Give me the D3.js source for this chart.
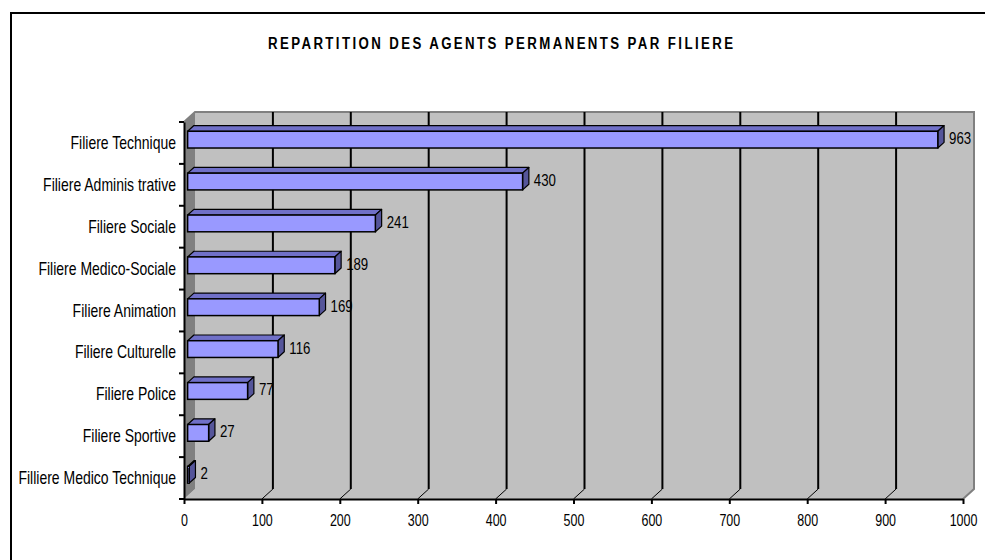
<!DOCTYPE html>
<html>
<head>
<meta charset="utf-8">
<script src="https://cdn.jsdelivr.net/npm/d3@7"></script>
<style>
  html, body { margin: 0; padding: 0; background: #fff; }
  svg { display: block; }
  text { font-family: "Liberation Sans", Arial, sans-serif; fill: #000; }
</style>
</head>
<body>
<svg id="chart" width="985" height="560"></svg>
<script>
// Effectifs permanents par filière
const categories = [
  "Filiere Technique",
  "Filiere Adminis trative",
  "Filiere Sociale",
  "Filiere Medico-Sociale",
  "Filiere Animation",
  "Filiere Culturelle",
  "Filiere Police",
  "Filiere Sportive",
  "Filliere Medico Technique"
];
const values = [963, 430, 241, 189, 169, 116, 77, 27, 2];
const tickValues = [0, 100, 200, 300, 400, 500, 600, 700, 800, 900, 1000];
const title = "REPARTITION DES AGENTS PERMANENTS PAR FILIERE";

const svg = d3.select("#chart");

// Plot frame (front plane) and oblique depth of the 3D box
const plotLeft = 184, plotRight = 963, plotTop = 122, plotBottom = 499;
const depth = { x: 11, y: -10 };
const barFront = 0.33, barBack = 0.9;   // bar position within the depth
const textScale = 0.78;                  // narrow glyphs

const x = d3.scaleLinear().domain([0, 1000]).range([plotLeft, plotRight]);
const y = d3.scaleBand().domain(categories).range([plotTop, plotBottom])
  .paddingInner(0.6).paddingOuter(0.3);

// Outer frame lines
svg.append("path")
  .attr("d", `M11,560 L11,13 L985,13`)
  .attr("fill", "none").attr("stroke", "#000").attr("stroke-width", 2);

// Title
svg.append("text")
  .attr("transform", `translate(268,49) scale(${textScale},1)`)
  .attr("font-size", 17).attr("font-weight", "bold")
  .attr("textLength", 465 / textScale).attr("lengthAdjust", "spacing")
  .text(title);

const bx = plotLeft + depth.x, by = plotTop + depth.y;     // back wall top-left
const bx2 = plotRight + depth.x, by2 = plotBottom + depth.y;

// Floor
svg.append("polygon")
  .attr("points", [[plotLeft, plotBottom], [bx, by2], [bx2, by2], [plotRight, plotBottom]].join(" "))
  .attr("fill", "#c0c0c0");
// Back wall
svg.append("rect")
  .attr("x", bx).attr("y", by).attr("width", bx2 - bx).attr("height", by2 - by)
  .attr("fill", "#c0c0c0");
// Side wall
svg.append("polygon")
  .attr("points", [[plotLeft, plotTop], [bx, by], [bx, by2], [plotLeft, plotBottom]].join(" "))
  .attr("fill", "#808080");
// Wall edges
svg.append("path")
  .attr("d", `M${plotLeft},${plotTop} L${bx},${by} L${bx2},${by} L${bx2},${by2} L${plotRight},${plotBottom}`)
  .attr("fill", "none").attr("stroke", "#808080").attr("stroke-width", 2);

// Gridlines on the back wall, with their floor diagonals
const grid = svg.append("g");
tickValues.filter(d => d > 0 && d < 1000).forEach(d => {
  grid.append("line")
    .attr("x1", x(d) + depth.x).attr("x2", x(d) + depth.x)
    .attr("y1", by).attr("y2", by2)
    .attr("stroke", "#000").attr("stroke-width", 2);
  grid.append("line")
    .attr("x1", x(d)).attr("y1", plotBottom)
    .attr("x2", x(d) + depth.x).attr("y2", by2)
    .attr("stroke", "#000").attr("stroke-width", 1);
});

// Bars
const f0 = { x: depth.x * barFront, y: depth.y * barFront };
const f1 = { x: depth.x * barBack, y: depth.y * barBack };
const h = y.bandwidth();
const bars = svg.append("g").selectAll("g").data(categories).join("g");
bars.each(function (c, i) {
  const g = d3.select(this);
  const x0 = x(0) + f0.x, x1 = x(values[i]) + f0.x;
  const yt = y(c) + f0.y;
  const dx = f1.x - f0.x, dy = f1.y - f0.y;
  // top face
  g.append("polygon")
    .attr("points", [[x0, yt], [x0 + dx, yt + dy], [x1 + dx, yt + dy], [x1, yt]].join(" "))
    .attr("fill", "#7070c8").attr("stroke", "#000").attr("stroke-width", 1.2)
    .attr("stroke-linejoin", "round");
  // side face
  g.append("polygon")
    .attr("points", [[x1, yt], [x1 + dx, yt + dy], [x1 + dx, yt + dy + h], [x1, yt + h]].join(" "))
    .attr("fill", "#55559a").attr("stroke", "#000").attr("stroke-width", 1.2)
    .attr("stroke-linejoin", "round");
  // front face
  g.append("rect")
    .attr("x", x0).attr("y", yt).attr("width", x1 - x0).attr("height", h)
    .attr("fill", "#9999ff").attr("stroke", "#000").attr("stroke-width", 1.5);
  // value label
  g.append("text")
    .attr("transform", `translate(${x1 + dx + 5},${yt + h / 2 + 4.5}) scale(${textScale},1)`)
    .attr("font-size", 17)
    .text(values[i]);
});

// Value axis
const xAxis = svg.append("g")
  .attr("transform", `translate(0,${plotBottom})`)
  .call(d3.axisBottom(x).tickValues(tickValues).tickFormat(d3.format("d"))
    .tickSize(5).tickSizeOuter(0));
xAxis.select(".domain").attr("stroke", "#000").attr("stroke-width", 2);
xAxis.selectAll(".tick line").attr("stroke", "#000").attr("stroke-width", 2);
xAxis.selectAll(".tick text")
  .attr("y", 27).attr("dy", null)
  .attr("transform", `scale(${textScale},1)`)
  .attr("font-size", 16).attr("font-family", null).attr("fill", "#000");

// Category axis
const yAxis = svg.append("g")
  .attr("transform", `translate(${plotLeft},0)`)
  .call(d3.axisLeft(y).tickSize(0).tickSizeOuter(0));
yAxis.select(".domain").attr("stroke", "#000").attr("stroke-width", 2);
yAxis.selectAll(".tick text")
  .attr("x", null).attr("dy", null).attr("y", 6)
  .attr("transform", `translate(-8,0) scale(0.8,1)`)
  .attr("font-size", 17.5).attr("font-family", null).attr("fill", "#000");
// category boundary ticks
const step = y.step();
d3.range(categories.length + 1).forEach(k => {
  const yy = plotTop + k * step;
  yAxis.append("line")
    .attr("x1", -5).attr("x2", 0).attr("y1", yy).attr("y2", yy)
    .attr("stroke", "#000").attr("stroke-width", 2);
});
</script>
</body>
</html>
